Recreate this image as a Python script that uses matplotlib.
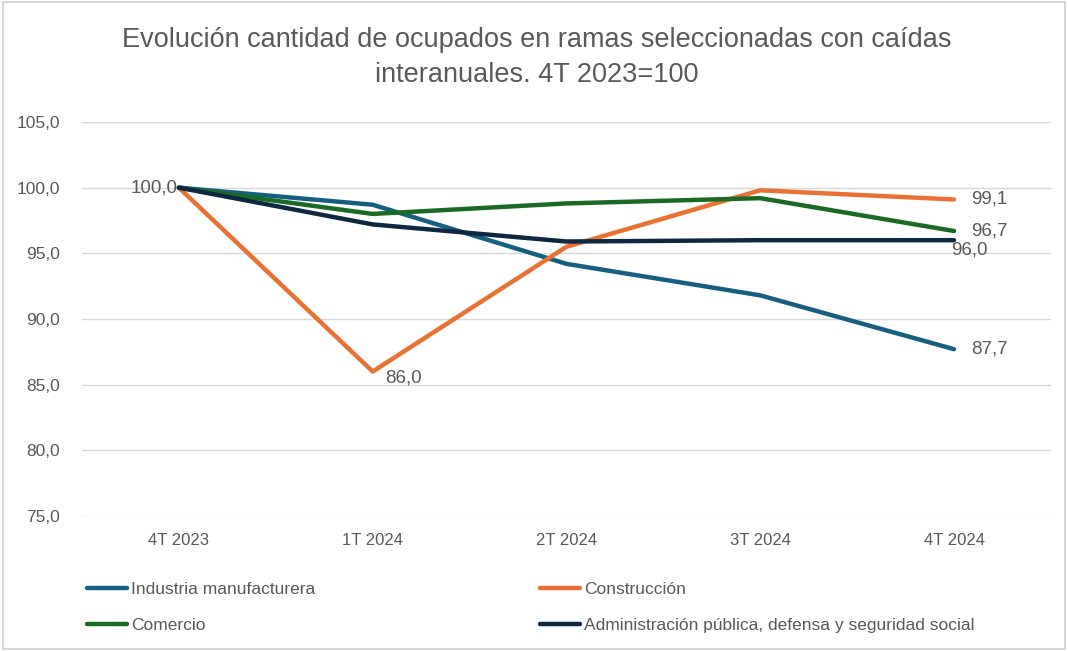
import matplotlib.pyplot as plt
from matplotlib.patches import Rectangle

periods = ["4T 2023", "1T 2024", "2T 2024", "3T 2024", "4T 2024"]
industria = [100.0, 98.7, 94.2, 91.8, 87.7]
construccion = [100.0, 86.0, 95.5, 99.8, 99.1]
comercio = [100.0, 98.0, 98.8, 99.2, 96.7]
administracion = [100.0, 97.2, 95.9, 96.0, 96.0]

series = [
    ("Industria manufacturera", industria, "#156082"),
    ("Construcción", construccion, "#E97132"),
    ("Comercio", comercio, "#196B24"),
    ("Administración pública, defensa y seguridad social", administracion, "#0E2841"),
]

TEXT = "#595959"
plt.rcParams["font.family"] = ["Liberation Sans", "DejaVu Sans"]

fig = plt.figure(figsize=(10.68, 6.51), dpi=100)
ax = fig.add_axes([0.0768, 0.2074, 0.9072, 0.6052])

x = list(range(len(periods)))
handles = []
for name, vals, color in series:
    (h,) = ax.plot(x, vals, color=color, lw=3.2, solid_capstyle="round",
                   solid_joinstyle="round", label=name)
    handles.append(h)

lab = dict(fontsize=13.5, color=TEXT)
ax.annotate("100,0", (0, industria[0]), xytext=(-1, 0), textcoords="offset points",
            ha="right", va="center", **lab)
ax.annotate("86,0", (1, construccion[1]), xytext=(9, -5), textcoords="offset points",
            ha="left", va="center", **lab)
ax.annotate("99,1", (4, construccion[4]), xytext=(12, 0), textcoords="offset points",
            ha="left", va="center", **lab)
ax.annotate("96,7", (4, comercio[4]), xytext=(12, 0), textcoords="offset points",
            ha="left", va="center", **lab)
ax.annotate("96,0", (4, administracion[4]), xytext=(-2, -7), textcoords="offset points",
            ha="left", va="center", **lab)
ax.annotate("87,7", (4, industria[4]), xytext=(12, 0), textcoords="offset points",
            ha="left", va="center", **lab)

ax.set_xlim(-0.5, 4.5)
ax.set_ylim(75, 105)
ax.set_yticks([75, 80, 85, 90, 95, 100, 105])
ax.set_yticklabels([f"{v:.1f}".replace(".", ",") for v in ax.get_yticks()])
ax.set_xticks(x)
ax.set_xticklabels(periods)
ax.tick_params(axis="y", length=0, colors=TEXT, labelsize=12.5, pad=16)
ax.tick_params(axis="x", length=0, colors=TEXT, labelsize=12, pad=12)
ax.grid(axis="y", color="#D9D9D9", lw=1)
ax.set_axisbelow(True)
for s in ax.spines.values():
    s.set_visible(False)

fig.text(0.503, 0.911, "Evolución cantidad de ocupados en ramas seleccionadas con caídas\ninteranuales. 4T 2023=100",
         ha="center", va="center", fontsize=19.5, color=TEXT, linespacing=1.45)

# Excel fills the legend row by row; matplotlib fills by column
order = [0, 2, 1, 3]
fig.legend(handles=[handles[i] for i in order], ncol=2, loc="upper left",
           bbox_to_anchor=(0.067, 0.13), frameon=False, fontsize=12.5,
           labelcolor=TEXT, handlelength=2.3, handletextpad=0.25,
           columnspacing=12.9, labelspacing=1.2)

fig.patches.append(Rectangle((0.003, 0.003), 0.994, 0.994, transform=fig.transFigure,
                             fill=False, edgecolor="#D0D0D0", lw=1.2))

fig.savefig("out.png", dpi=100)
